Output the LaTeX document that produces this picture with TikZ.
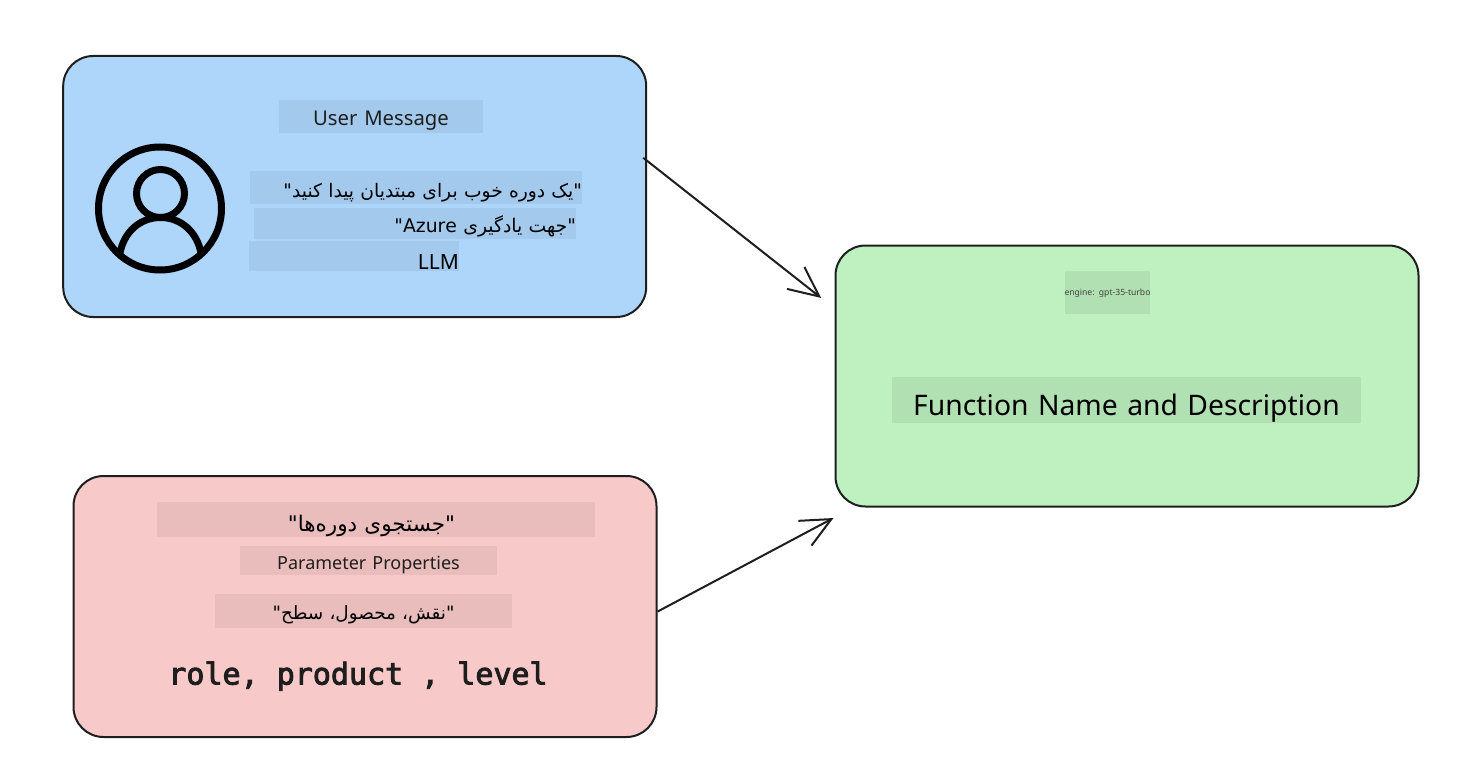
\documentclass[tikz,border=0pt]{standalone}
\usepackage{fontspec}
\usetikzlibrary{arrows.meta}
\setmainfont{Noto Sans}
\newfontfamily\codefont[FakeBold=3]{DejaVu Sans Mono}
\newfontfamily\farsifont[Script=Arabic]{DejaVu Sans}
\TeXXeTstate=1
\definecolor{inkline}{HTML}{1E1E1E}
\definecolor{userfill}{HTML}{AED6FB}
\definecolor{userpatch}{HTML}{A3CAEC}
\definecolor{paramfill}{HTML}{F7C9C9}
\definecolor{parampatch}{HTML}{E9BDBC}
\definecolor{funcfill}{HTML}{BEF1BF}
\definecolor{funcpatch}{HTML}{B1E1B3}

\begin{document}
\begin{tikzpicture}[x=1pt,y=-1pt,
    card/.style={draw=inkline,line width=2pt,rounded corners=30pt,inner sep=0pt,
        minimum width=583pt,minimum height=261pt},
    labelpatch/.style={inner sep=0pt,minimum height=#1,text=inkline,text depth=0pt,
        font=\fontsize{20.3}{25}\selectfont},
    flowarrow/.style={draw=inkline,line width=2pt,
        -{Straight Barb[length=30pt,width=28pt,line width=2pt]}},
    iconline/.style={draw=black,line width=7pt}]
    \useasboundingbox (0,0) rectangle (1484,776);
    \node (usercard) [card,fill=userfill] at (354.7,186.5) {};
    \node (paramcard) [card,fill=paramfill] at (365,606.5) {};
    \node (funccard) [card,fill=funcfill] at (1127,376) {};

    \node (usertitle) [labelpatch=33pt,fill=userpatch,text width=204pt,align=center,text height=18.5pt] at (381,116.5) {User Message};
    \node (userline1) [labelpatch=33pt,fill=userpatch,text width=332pt,align=right,text height=20pt,text=black,
        font=\fontsize{18.7}{22}\selectfont] at (416,187) {\farsifont\beginR"یک دوره خوب برای مبتدیان پیدا کنید"\endR};
    \node (userline2) [labelpatch=31pt,fill=userpatch,text width=322pt,align=right,text height=18pt,text=black,
        font=\fontsize{18.8}{22}\selectfont] at (415,223) {\farsifont\beginR"جهت یادگیری \beginL Azure\endL"\endR};
    \node (userline3) [labelpatch=30pt,fill=userpatch,text width=210pt,align=right,text height=26pt,text=black,
        font=\fontsize{21}{25}\selectfont] at (354,256) {LLM};

    \node (paramname) [labelpatch=35pt,fill=parampatch,text width=438pt,align=center,text height=24pt,text=black,
        font=\fontsize{21.5}{26}\selectfont] at (376,519) {\farsifont\beginR"جستجوی دوره‌ها"\endR\hspace{9pt}\mbox{}};
    \node (paramtitle) [labelpatch=29pt,fill=parampatch,text width=257pt,align=center,text height=18pt,
        font=\fontsize{18}{22}\selectfont] at (368.5,560) {Parameter Properties};
    \node (paramlist) [labelpatch=34pt,fill=parampatch,text width=297pt,align=center,text height=16pt,text=black,
        font=\fontsize{18.4}{22}\selectfont] at (363.5,611) {\farsifont\beginR"نقش، محصول، سطح"\endR};
    \node (paramcode) [inner sep=0pt,anchor=base,text=inkline,font=\fontsize{30}{36}\selectfont\codefont] at (358,684.5) {role, product , level};

    \node (funcengine) [labelpatch=43pt,fill=funcpatch,text width=85pt,align=center,text=inkline!85,text height=6.5pt,
        font=\fontsize{8.6}{10}\selectfont] at (1107,292.5) {\mbox{engine: gpt-35-turbo}};
    \node (functitle) [labelpatch=46pt,fill=funcpatch,text width=469pt,align=center,text=black,text height=30pt,
        font=\fontsize{28.3}{34}\selectfont] at (1126.5,400) {Function Name and Description};

    \node (usericon) [circle,iconline,inner sep=0pt,minimum size=123pt] at (160,208.5) {};
    \node (userhead) [circle,iconline,inner sep=0pt,minimum size=48pt] at (160.5,193.5) {};
    \draw[iconline] (120,253) .. controls (124,232) and (140,217.5) .. (160.5,217.5) .. controls (181,217.5) and (197,232) .. (201,253);

    \coordinate (paramtip) at ([shift={(-1,10.5)}]funccard.south west);
    \draw[flowarrow,shorten <=-5pt,shorten >=17pt] (usercard.5) -- (funccard.167.6);
    \draw[flowarrow] (paramcard.-1) -- (paramtip);
\end{tikzpicture}
\end{document}
